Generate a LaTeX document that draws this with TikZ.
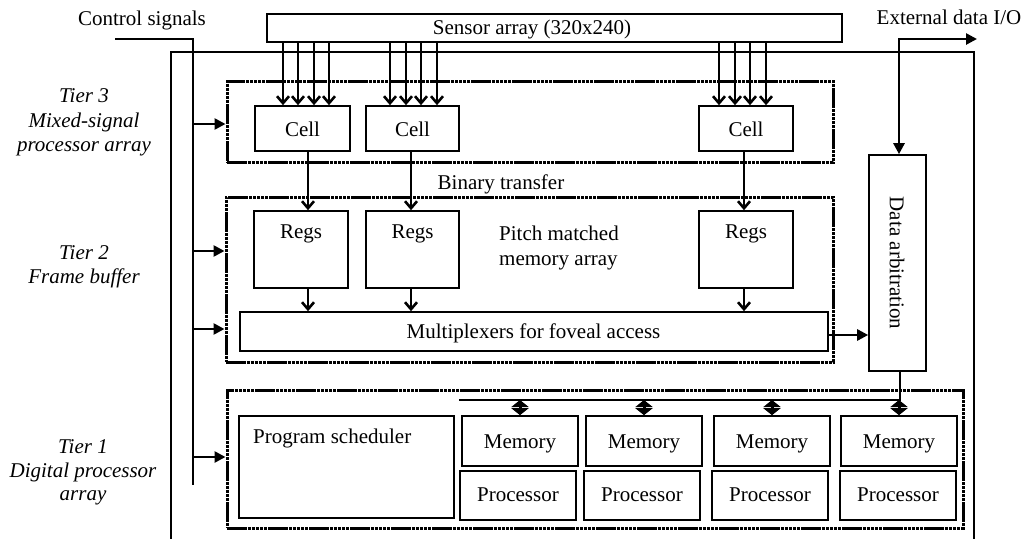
\documentclass[tikz,border=0pt]{standalone}
\usepackage{fontspec}
\setmainfont{Liberation Serif}
\usetikzlibrary{arrows.meta,calc}
\begin{document}
\begin{tikzpicture}[x=1pt,y=-1pt,
  txt/.style={font=\fontsize{21}{25}\selectfont, inner sep=0pt, anchor=base},
  itxt/.style={txt, font=\fontsize{21}{25}\selectfont\itshape},
  box/.style={draw, line width=1.6pt, inner sep=0pt},
  tier/.style={draw, line width=3pt, dash pattern=on 3.5pt off 0.6pt, inner sep=0pt},
  thin/.style={line width=1.6pt},
  harrow/.style={line width=2.6pt, -{Triangle[length=11pt,width=11pt]}},
  varrow/.style={line width=2.6pt, -{Straight Barb[length=7pt,width=12pt]}},
  darrow/.style={line width=3pt, {Triangle[length=7pt,width=17pt]}-{Triangle[length=7pt,width=17pt]}}
]
\useasboundingbox (0,0) rectangle (1025,538);

% outer frame
\draw[thin] (171,545) -- (171,52) -- (974,52) -- (974,545);

% sensor
\node[box, minimum width=575pt, minimum height=28pt] (sensor) at (554.5,28) {};
\node[txt] (sensortxt) at (532,34) {Sensor array (320x240)};

% tiers
\node[tier, minimum width=606pt, minimum height=81pt] (t3) at (530,121.5) {};
\node[tier, minimum width=607pt, minimum height=165pt] (t2) at (529.5,279.5) {};
\node[tier, minimum width=736pt, minimum height=138pt] (t1) at (595,459) {};

% cells
\node[box, minimum width=95pt, minimum height=45pt] (c1) at (302.5,128.5) {};
\node[box, minimum width=93pt, minimum height=45pt] (c2) at (412.5,128.5) {};
\node[box, minimum width=94pt, minimum height=45pt] (c3) at (746,128.5) {};
\node[txt] (c1t) at (302.5,136) {Cell};
\node[txt] (c2t) at (412.5,136) {Cell};
\node[txt] (c3t) at (746,136) {Cell};

\node[txt] (bt) at (501,189) {Binary transfer};

% regs
\node[box, minimum width=94pt, minimum height=77pt] (r1) at (301,249.5) {};
\node[box, minimum width=93pt, minimum height=77pt] (r2) at (412.5,249.5) {};
\node[box, minimum width=94pt, minimum height=77pt] (r3) at (746,249.5) {};
\node[txt] (r1t) at (301,238) {Regs};
\node[txt] (r2t) at (412.5,238) {Regs};
\node[txt] (r3t) at (746,238) {Regs};
\node[txt, anchor=base west] (pm1) at (499,240) {Pitch matched};
\node[txt, anchor=base west] (pm2) at (499,265) {memory array};

% mux
\node[box, minimum width=588pt, minimum height=39pt] (mux) at (534,331.5) {};
\node[txt] (muxt) at (533.5,338) {Multiplexers for foveal access};

% data arbitration
\node[box, minimum width=57pt, minimum height=216pt] (da) at (897.5,263) {};
\node[font=\fontsize{21}{25}\selectfont, inner sep=0pt, rotate=-90] (dat) at (897,263) {Data arbitration};

% tier 1
\node[box, minimum width=215pt, minimum height=102pt] (ps) at (346.5,467) {};
\node[txt, anchor=base west] (pst) at (253,443) {Program scheduler};
\foreach \i/\mx/\px in {1/520/518, 2/644/642, 3/772/770, 4/899/898}{
  \node[box, minimum width=116pt, minimum height=50pt] (m\i) at (\mx,441) {};
  \node[txt] (m\i t) at (\mx,448) {Memory};
  \node[box, minimum width=116pt, minimum height=49pt] (p\i) at (\px,495.5) {};
  \node[txt] (p\i t) at (\px,501) {Processor};
}

% labels
\node[txt] (cst) at (142,25) {Control signals};
\node[txt] (ext) at (949,24) {External data I/O};
\node[itxt] (l31) at (84,102) {Tier 3};
\node[itxt] (l32) at (84,127) {Mixed-signal};
\node[itxt] (l33) at (84,151) {processor array};
\node[itxt] (l21) at (84,259) {Tier 2};
\node[itxt] (l22) at (84,283) {Frame buffer};
\node[itxt] (l11) at (83,453) {Tier 1};
\node[itxt] (l12) at (83,477) {Digital processor};
\node[itxt] (l13) at (83,500) {array};

% control signals
\coordinate (cs0) at (115,39);
\coordinate (csb) at (193,485);
\draw[thin] (cs0) -| (csb);
\coordinate (ca1) at (193,124);
\coordinate (ca2) at (193,251);
\coordinate (ca3) at (193,329);
\coordinate (ca4) at (193,457);
\draw[harrow] (ca1) -- (ca1 -| t3.west);
\draw[harrow] (ca2) -- (ca2 -| t2.west);
\draw[harrow] (ca3) -- (ca3 -| t2.west);
\draw[harrow] (ca4) -- (ca4 -| t1.west);

% sensor arrows
\foreach \x/\c in {283/c1,298/c1,314/c1,329/c1,390/c2,406/c2,421/c2,437/c2,719/c3,735/c3,750/c3,766/c3}{
  \coordinate (sx) at (\x,0);
  \draw[varrow] (sensor.south -| sx) -- (\c.north -| sx);
}

% cell -> regs -> mux
\foreach \x/\c/\r in {308/c1/r1, 411/c2/r2, 744/c3/r3}{
  \coordinate (vx) at (\x,0);
  \draw[varrow] (\c.south -| vx) -- (\r.north -| vx);
  \draw[varrow] (\r.south -| vx) -- (mux.north -| vx);
}

% mux -> data arbitration
\coordinate (my) at (0,335);
\draw[harrow] (mux.east |- my) -- (da.west |- my);

% external I/O
\coordinate (extc) at (899,39);
\coordinate (extr) at (977,39);
\draw[line width=2.6pt, {Triangle[length=11pt,width=11pt]}-{Triangle[length=11pt,width=11pt]}] (da.north -| extc) -- (extc) -- (extr);

% bus
\coordinate (busL) at (459,400);
\coordinate (busR) at (900,400);
\draw[thin] (da.south -| busR) -- (busR) -- (busL);
\foreach \i in {1,2,3,4}{
  \draw[darrow] (busL -| m\i.north) -- (m\i.north);
}
\end{tikzpicture}
\end{document}
